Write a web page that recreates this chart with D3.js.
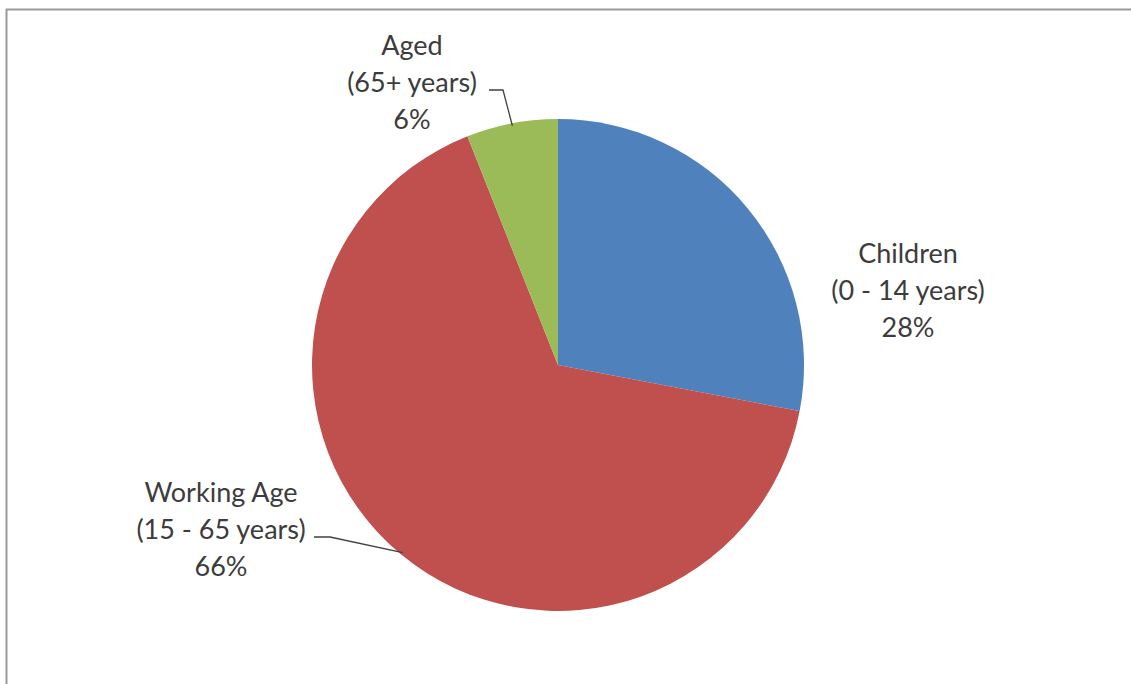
<!DOCTYPE html>
<html>
<head>
<meta charset="utf-8">
<script src="https://cdn.jsdelivr.net/npm/d3@7"></script>
<style>
  html, body { margin: 0; padding: 0; background: #ffffff; }
  svg { display: block; }
  text { font-family: Lato, "Open Sans", sans-serif; fill: #3c3c3c; }
</style>
</head>
<body>
<div id="chart"></div>
<script>
const categories = ["Children", "Working Age", "Aged"];
const subLabels = ["(0 - 14 years)", "(15 - 65 years)", "(65+ years)"];
const values = [28, 66, 6];
const colors = ["#4F81BD", "#C0504D", "#9BBB59"];

const W = 1131, H = 684;
const cx = 558, cy = 365, R = 246;

const svg = d3.select("#chart").append("svg").attr("width", W).attr("height", H);

// frame
svg.append("line").attr("x1", 6).attr("x2", W).attr("y1", 9.5).attr("y2", 9.5)
  .attr("stroke", "#9a9a9a").attr("stroke-width", 2);
svg.append("line").attr("x1", 6.5).attr("x2", 6.5).attr("y1", 9).attr("y2", H)
  .attr("stroke", "#9a9a9a").attr("stroke-width", 2);

const pie = d3.pie().sort(null).value(d => d)(values);
const arc = d3.arc().innerRadius(0).outerRadius(R);

const g = svg.append("g").attr("transform", `translate(${cx},${cy})`);
g.selectAll("path").data(pie).join("path")
  .attr("d", arc)
  .attr("fill", (d, i) => colors[i]);

// label layout (text block positions)
const labelPos = [
  { x: 908, y: 263, lead: null },
  { x: 221, y: 502, lead: { from: [314, 537], dx: 16 } },
  { x: 412, y: 55, lead: { from: [489, 90], dx: 14 } }
];
const lineGap = 37;
const fs = 27;

pie.forEach((d, i) => {
  const p = labelPos[i];
  const t = svg.append("text").attr("text-anchor", "middle").attr("font-size", fs);
  [categories[i], subLabels[i], values[i] + "%"].forEach((s, k) => {
    t.append("tspan").attr("x", p.x).attr("y", p.y + k * lineGap).text(s);
  });
  if (p.lead) {
    const ang = (d.startAngle + d.endAngle) / 2;
    const ex = cx + Math.sin(ang) * R * 0.99;
    const ey = cy - Math.cos(ang) * R * 0.99;
    const pts = [p.lead.from, [p.lead.from[0] + p.lead.dx, p.lead.from[1]], [ex, ey]];
    svg.append("path").attr("d", d3.line()(pts))
      .attr("fill", "none").attr("stroke", "#404040").attr("stroke-width", 1.3);
  }
});
</script>
</body>
</html>
